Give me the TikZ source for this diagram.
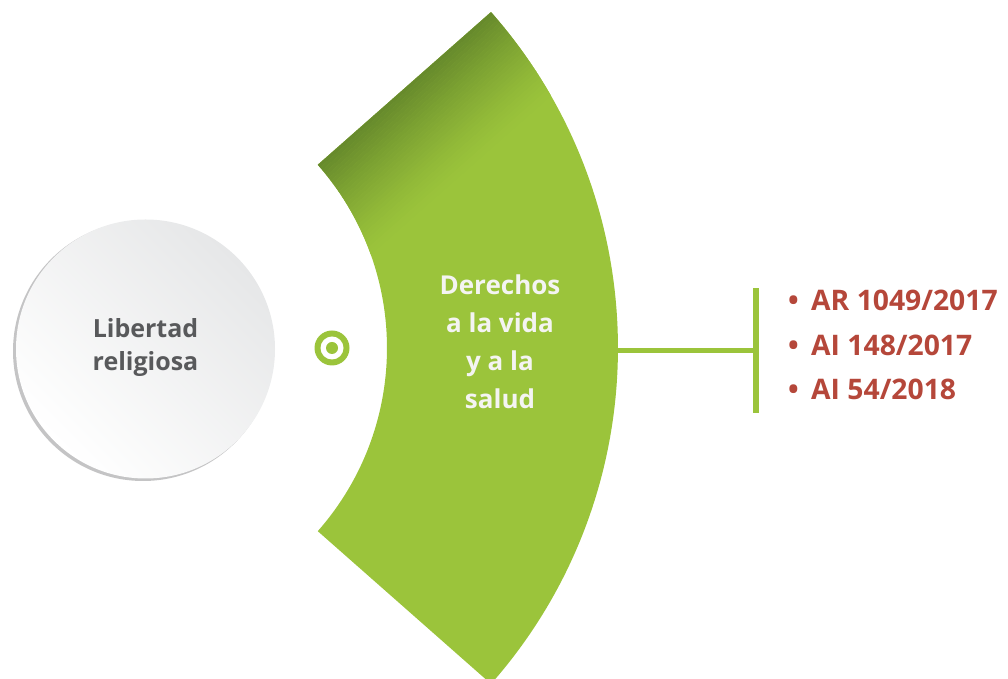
\documentclass[tikz,border=0pt]{standalone}
\usepackage{fontspec}
\setmainfont{Open Sans}
\usetikzlibrary{calc}
\definecolor{gmain}{HTML}{9BC43B}
\definecolor{gdark}{HTML}{678A2C}
\definecolor{redtxt}{HTML}{B5473A}
\definecolor{graytxt}{HTML}{58595B}
\definecolor{whitetxt}{HTML}{F4F4F2}
\definecolor{circtop}{HTML}{E6E7E8}
\definecolor{circrim}{HTML}{C4C4C5}
\begin{document}
\begin{tikzpicture}[x=1pt,y=1pt,
  txtbase/.style={font=\bfseries\fontsize{26}{38}\selectfont, inner sep=0pt},
  sectortxt/.style={txtbase, align=center, text=whitetxt},
  circtxt/.style={txtbase, font=\bfseries\fontsize{25}{33}\selectfont, align=center, text=graytxt},
  listtxt/.style={txtbase, font=\bfseries\fontsize{28.3}{44.5}\selectfont, align=left, text=redtxt},
  link/.style={draw=gmain, line width=5pt},
  bar/.style={draw=gmain, line width=6pt}]
\useasboundingbox (0,0) rectangle (1008,679);
% sector geometry
\coordinate (C) at (110,331);
\coordinate (inTop) at ($(C)+(41.4:277pt)$);
\coordinate (outBot) at ($(C)+(-41.4:508pt)$);
\def\secpath{(inTop) arc[start angle=41.4,end angle=-41.4,radius=277pt] -- (outBot) arc[start angle=-41.4,end angle=41.4,radius=508pt] -- cycle}
\fill[gmain] \secpath;
\begin{scope}
  \clip \secpath;
  \begin{scope}[shift={(inTop)}, rotate=41.4]
    \fill[gdark] (-80,0) rectangle (460,30);
    \foreach \i in {0,...,29}{
      \pgfmathsetmacro{\pc}{100*(1-\i/30)^1.3}
      \fill[gdark!\pc!gmain] (-80,-\i*3.4) rectangle (460,-\i*3.4-3.6);
    }
  \end{scope}
\end{scope}
% left circle
\fill[circrim] (143,328) circle[radius=130pt];
\shade[top color=circtop, bottom color=white, shading angle=-45] (145.5,330) circle[radius=129.5pt];
\node[circle, minimum size=259pt, inner sep=0pt] (circ) at (145.5,330) {};
\node[circtxt] (lib) at (145.5,331) {Libertad\\religiosa};
% ring marker
\node[circle, fill=gmain, minimum size=35pt, inner sep=0pt] (ring) at (332,331) {};
\fill[white] (ring.center) circle[radius=11.5pt];
\fill[gmain] (ring.center) circle[radius=6pt];
% sector text
\node[sectortxt] (sec) at (500,337) {Derechos\\a la vida\\y a la\\salud};
% connector
\coordinate (secE) at (614,328);
\coordinate (barMid) at (756,328);
\coordinate (barTop) at (756,391);
\coordinate (barBot) at (756,266);
\draw[link] (secE) -- (barMid);
\draw[bar] (barBot) -- (barTop);
% list
\node[listtxt, anchor=north west] (list) at (788,389) {\makebox[23pt][l]{\textbullet}AR 1049/2017\\\makebox[23pt][l]{\textbullet}AI 148/2017\\\makebox[23pt][l]{\textbullet}AI 54/2018};
\end{tikzpicture}
\end{document}
